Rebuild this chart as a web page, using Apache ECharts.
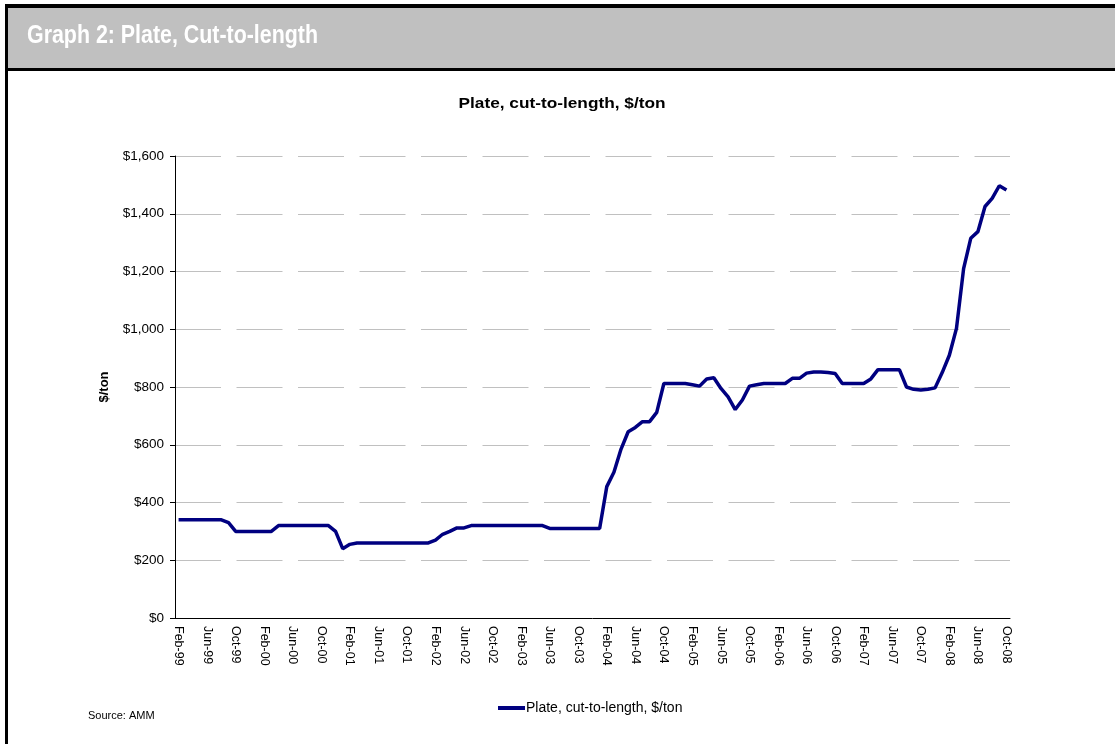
<!DOCTYPE html>
<html>
<head>
<meta charset="utf-8">
<style>
  html, body { margin: 0; padding: 0; background: #fff; }
  #chart { width: 1115px; height: 744px; }
</style>
<script src="https://cdn.jsdelivr.net/npm/echarts@6/dist/echarts.min.js"></script>
</head>
<body>
<div id="chart"></div>
<script>
// month labels Feb-99 .. Oct-08
var monNames = ['Jan', 'Feb', 'Mar', 'Apr', 'May', 'Jun', 'Jul', 'Aug', 'Sep', 'Oct', 'Nov', 'Dec']
var months = []
for (var k = 0; k < 117; k++) {
  var m = (1 + k) % 12
  var y = 1999 + Math.floor((1 + k) / 12)
  months.push(monNames[m] + '-' + String(y).slice(2))
}

// plate, cut-to-length, $/ton
var plate = [
  340, 340, 340, 340, 340, 340, 340, 330, 300, 300,
  300, 300, 300, 300, 320, 320, 320, 320, 320, 320,
  320, 320, 300, 240, 255, 260, 260, 260, 260, 260,
  260, 260, 260, 260, 260, 260, 270, 290, 300, 312,
  312, 320, 320, 320, 320, 320, 320, 320, 320, 320,
  320, 320, 310, 310, 310, 310, 310, 310, 310, 310,
  455, 505, 585, 645, 660, 680, 680, 712, 812, 812,
  812, 812, 808, 803, 828, 832, 795, 766, 722, 755,
  803, 808, 812, 812, 812, 812, 830, 830, 848, 852,
  852, 850, 847, 812, 812, 812, 812, 828, 860, 860,
  860, 860, 800, 792, 790, 792, 797, 850, 910, 1003,
  1210, 1315, 1338, 1425, 1453, 1497, 1482
]

var yTicks = { min: 0, max: 1600, step: 200 }

var headerText = 'Graph 2: Plate, Cut-to-length'
var headerFont = 'bold 25px "Liberation Sans", Arial, sans-serif'
// squeeze the header to the narrow width of the original
var ctx = document.createElement('canvas').getContext('2d')
ctx.font = headerFont
var headerScale = 291 / ctx.measureText(headerText).width

var myChart = echarts.init(document.getElementById('chart'))
var option = {
  animation: false,
  backgroundColor: '#fff',
  graphic: [
    // header band
    { type: 'rect', shape: { x: 5, y: 5, width: 1110, height: 66 }, style: { fill: '#c0c0c0' }, z: 0 },
    { type: 'rect', shape: { x: 5, y: 4, width: 1110, height: 4 }, style: { fill: '#000' } },
    { type: 'rect', shape: { x: 5, y: 68, width: 1110, height: 3 }, style: { fill: '#000' } },
    { type: 'rect', shape: { x: 5, y: 4, width: 3, height: 740 }, style: { fill: '#000' } },
    {
      type: 'text', x: 27, y: 24, scaleX: headerScale,
      style: { text: headerText, fill: '#fff', font: headerFont, align: 'left', verticalAlign: 'top' }
    },
    {
      type: 'text', x: 562, y: 104, scaleX: 1.15,
      style: {
        text: 'Plate, cut-to-length, $/ton', fill: '#000',
        font: 'bold 15px "Liberation Sans", Arial, sans-serif', align: 'center', verticalAlign: 'middle'
      }
    },
    {
      type: 'text', x: 88, y: 716,
      style: { text: 'Source: AMM', fill: '#000', font: '11px "Liberation Sans", Arial, sans-serif', verticalAlign: 'middle' }
    }
  ],
  legend: {
    left: 493,
    top: 696,
    itemWidth: 27,
    itemHeight: 4,
    itemGap: 0,
    icon: 'rect',
    textStyle: { fontFamily: 'Liberation Sans, Arial', fontSize: 14, color: '#000', padding: [0, 0, 0, -4] },
    data: ['Plate, cut-to-length, $/ton']
  },
  grid: { left: 175, right: 105, top: 156, bottom: 126, containLabel: false },
  xAxis: {
    type: 'category',
    data: months,
    boundaryGap: true,
    axisLine: { lineStyle: { color: '#000', width: 1 } },
    axisTick: { interval: 3, length: 5, lineStyle: { color: '#000' } },
    axisLabel: {
      interval: 3,
      rotate: -90,
      margin: 8,
      color: '#000',
      fontFamily: 'Liberation Sans, Arial',
      fontSize: 12.5
    },
    splitLine: { show: false }
  },
  yAxis: {
    type: 'value',
    min: yTicks.min,
    max: yTicks.max,
    interval: yTicks.step,
    name: '$/ton',
    nameLocation: 'middle',
    nameRotate: 90,
    nameGap: 64,
    nameTextStyle: { fontFamily: 'Liberation Sans, Arial', fontSize: 13, fontWeight: 'bold', color: '#000' },
    axisLine: { show: true, lineStyle: { color: '#000', width: 1 } },
    axisTick: { show: true, length: 5, lineStyle: { color: '#000' } },
    axisLabel: {
      color: '#000',
      fontFamily: 'Liberation Sans, Arial',
      fontSize: 13.5,
      margin: 11,
      formatter: function (v) { return '$' + v.toLocaleString('en-US') }
    },
    splitLine: { show: true, lineStyle: { color: '#c0c0c0', width: 1, type: [46, 15.5] } }
  },
  series: [
    {
      name: 'Plate, cut-to-length, $/ton',
      type: 'line',
      data: plate,
      symbol: 'none',
      lineStyle: { color: '#000080', width: 3.5 },
      itemStyle: { color: '#000080' }
    }
  ]
}
myChart.setOption(option)
</script>
</body>
</html>
